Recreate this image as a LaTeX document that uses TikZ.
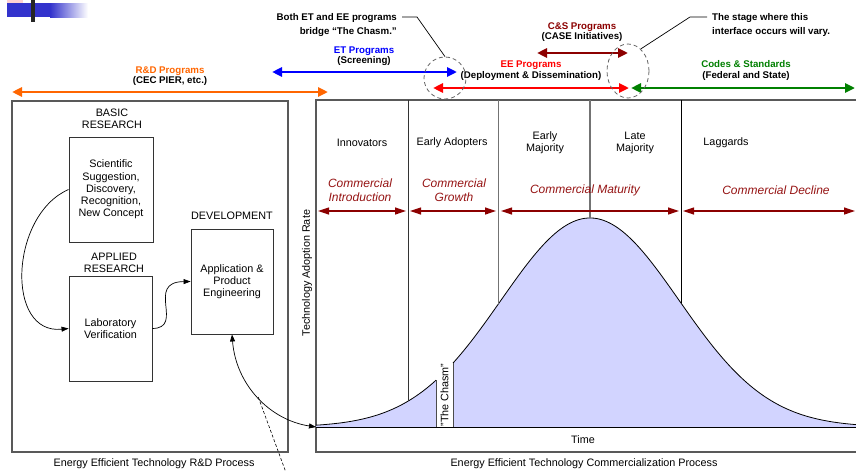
\documentclass[tikz,border=0pt]{standalone}
\usepackage{fontspec}
\setmainfont{Liberation Sans}
\usetikzlibrary{arrows.meta,shapes.geometric}
\definecolor{orng}{RGB}{255,102,0}
\definecolor{pblue}{RGB}{0,0,255}
\definecolor{pred}{RGB}{255,0,0}
\definecolor{dred}{RGB}{140,0,0}
\definecolor{ptxt}{RGB}{150,20,20}
\definecolor{pgreen}{RGB}{0,128,0}
\definecolor{lav}{RGB}{210,212,255}
\definecolor{slideblue}{RGB}{51,51,204}
\begin{document}
\begin{tikzpicture}[x=1pt,y=-1pt,
  reg/.style={font=\fontsize{10.8}{12.2}\selectfont, align=center, inner sep=0pt},
  bld/.style={font=\fontsize{9.7}{10.5}\selectfont\bfseries, align=center, inner sep=0pt},
  note/.style={font=\fontsize{9.7}{13.5}\selectfont\bfseries, inner sep=0pt},
  phase/.style={font=\fontsize{12}{14}\selectfont\itshape, text=ptxt, align=center, inner sep=0pt},
  frame/.style={draw=black!65, line width=1.2pt},
  rdbox/.style={draw=black!80, line width=0.9pt, reg, minimum width=#1},
  big/.style={line width=2.8pt, {Triangle[length=10pt,width=9pt]}-{Triangle[length=10pt,width=9pt]}},
  pharr/.style={line width=1.2pt, draw=dred, {Triangle[length=11pt,width=7pt]}-{Triangle[length=11pt,width=7pt]}},
  conn/.style={line width=0.7pt, -{Triangle[length=7pt,width=5pt]}},
  dconn/.style={line width=0.7pt, {Triangle[length=7pt,width=5pt]}-{Triangle[length=7pt,width=5pt]}},
  ring/.style={draw=black!60, line width=0.8pt, dash pattern=on 4pt off 3pt, inner sep=0pt}
]
\useasboundingbox (0,0) rectangle (856,471);
\clip (0,0) rectangle (856,471);
\fill[white] (0,0) rectangle (856,471);

% slide decoration
\fill[pink!70] (7,0) rectangle (23,3);
\fill[slideblue] (7,3) rectangle (50,17);
\shade[left color=slideblue, right color=white] (50,3) rectangle (88,17);
\fill[black!85] (31,0) rectangle (35,22);

% ---------------- R&D process ----------------
\node[frame, minimum width=276pt, minimum height=351pt, inner sep=0pt] (rd) at (150,276.5) {};
\node[reg] (basiclbl) at (112,119) {BASIC\\RESEARCH};
\node[rdbox=84pt, minimum height=105pt] (basic) at (111,189.5)
  {Scientific\\Suggestion,\\Discovery,\\Recognition,\\New Concept};
\node[reg] (applbl) at (114,263) {APPLIED\\RESEARCH};
\node[rdbox=83pt, minimum height=105pt] (applied) at (110.5,328.5) {Laboratory\\Verification};
\node[reg] (devlbl) at (232,216) {DEVELOPMENT};
\node[rdbox=82pt, minimum height=105pt] (dev) at (232,281.5) {Application \&\\Product\\Engineering};
\node[reg] (rdcap) at (154,464) {Energy Efficient Technology R\&D Process};

\draw[conn] (basic.west) .. controls (10,215) and (5,335) .. (applied.west);
\draw[conn] (applied.east) .. controls (185,328) and (145,282) .. (dev.west);

% ---------------- Commercialization ----------------
\node[frame, minimum width=554pt, minimum height=352pt, inner sep=0pt] (cbox) at (593,276) {};
\coordinate (base0) at (316,427);
\coordinate (baseE) at (870,427);

\fill[lav] (base0) -- plot[domain=316:436, samples=60] (\x,{427-209*exp(-0.5*((\x-590)/89)^2)}) -- (436,427) -- cycle;
\fill[lav] (453,427) -- plot[domain=453:870, samples=140] (\x,{427-209*exp(-0.5*((\x-590)/89)^2)}) -- (870,427) -- cycle;
\draw[line width=0.8pt] plot[domain=316:436, samples=60] (\x,{427-209*exp(-0.5*((\x-590)/89)^2)});
\draw[line width=0.8pt] plot[domain=453:870, samples=140] (\x,{427-209*exp(-0.5*((\x-590)/89)^2)});
\draw[black!70, line width=0.9pt] (436,380.2) -- (436,427);
\draw[black!70, line width=0.9pt] (453,363.1) -- (453,427);
\draw[line width=1pt] (base0) -- (baseE);

% dividers
\draw[black!80, line width=0.9pt] (408,100) -- (408,401.2);
\draw[black!55, line width=1.1pt] (498.5,100) -- (498.5,304);
\draw[black!55, line width=1.1pt] (590,100) -- (590,218);
\draw[black, line width=0.9pt] (681,100) -- (681,303);

\node[reg, rotate=90] (yax) at (307,273) {Technology Adoption Rate};
\node[reg, rotate=90] (chasm) at (444.5,395) {"The Chasm"};
\node[reg] (time) at (583,440) {Time};
\node[reg] (ccap) at (584,464) {Energy Efficient Technology Commercialization Process};

% stage labels
\node[reg] (inno) at (362,143) {Innovators};
\node[reg] (eadopt) at (452,143) {Early Adopters};
\node[reg] (emaj) at (545,143) {Early\\Majority};
\node[reg] (lmaj) at (635,143) {Late\\Majority};
\node[reg] (lag) at (726,143) {Laggards};

\node[phase] (pintro) at (360,190) {Commercial\\Introduction};
\node[phase] (pgrow) at (454,190) {Commercial\\Growth};
\node[phase] (pmat) at (585,190) {Commercial Maturity};
\node[phase] (pdec) at (776,190) {Commercial Decline};

\coordinate (a1) at (318,211); \coordinate (a2) at (406,211);
\coordinate (a3) at (410,211); \coordinate (a4) at (496,211);
\coordinate (a5) at (501,211); \coordinate (a6) at (679,211);
\coordinate (a7) at (683,211); \coordinate (a8) at (855,211);
\draw[pharr] (a1) -- (a2);
\draw[pharr] (a3) -- (a4);
\draw[pharr] (a5) -- (a6);
\draw[pharr] (a7) -- (a8);

% link between processes
\draw[dconn] (dev.south) .. controls (236,385) and (270,420) .. coordinate[pos=0.5] (lmid) (base0);
\coordinate (dashend) at (288,478);
\draw[line width=0.6pt, densely dashed] (lmid) -- (dashend);

% ---------------- program arrows ----------------
\coordinate (rdL) at (12,92);  \coordinate (rdR) at (328,92);
\coordinate (etL) at (272,72); \coordinate (etR) at (457,72);
\coordinate (eeL) at (433,88); \coordinate (eeR) at (629,88);
\coordinate (csL) at (537,53); \coordinate (csR) at (628,53);
\coordinate (cdL) at (631,88); \coordinate (cdR) at (855,88);
\draw[big, orng] (rdL) -- (rdR);
\draw[big, pblue] (etL) -- (etR);
\draw[big, pred] (eeL) -- (eeR);
\draw[big, dred] (csL) -- (csR);
\draw[big, pgreen] (cdL) -- (cdR);

\node[bld] (rdlab) at (170,76) {\textcolor{orng}{R\&D Programs}\\(CEC PIER, etc.)};
\node[bld] (etlab) at (364,56) {\textcolor{pblue}{ET Programs}\\(Screening)};
\node[bld] (eelab) at (531,70.5) {\textcolor{pred}{EE Programs}\\(Deployment \& Dissemination)};
\node[bld] (cslab) at (582,32) {\textcolor{dred}{C\&S Programs}\\(CASE Initiatives)};
\node[bld] (cdlab) at (746,70.5) {\textcolor{pgreen}{Codes \& Standards}\\(Federal and State)};

% rings and notes
\node[ring, circle, minimum size=42pt] (c1) at (445,78) {};
\node[ring, ellipse, minimum width=42pt, minimum height=54pt] (c2) at (628,71) {};
\node[note, align=right, anchor=east] (both) at (397,25) {Both ET and EE programs\\bridge ``The Chasm.''};
\node[note, align=left, anchor=west] (stage) at (712,25) {The stage where this\\interface occurs will vary.};
\draw[line width=0.7pt] ([shift={(5,-8)}]both.east) -- ++(15,0) -- (c1.north);
\draw[line width=0.7pt] ([shift={(-5,-8)}]stage.west) -- ++(-17,0) -- (c2.60);
\end{tikzpicture}
\end{document}
